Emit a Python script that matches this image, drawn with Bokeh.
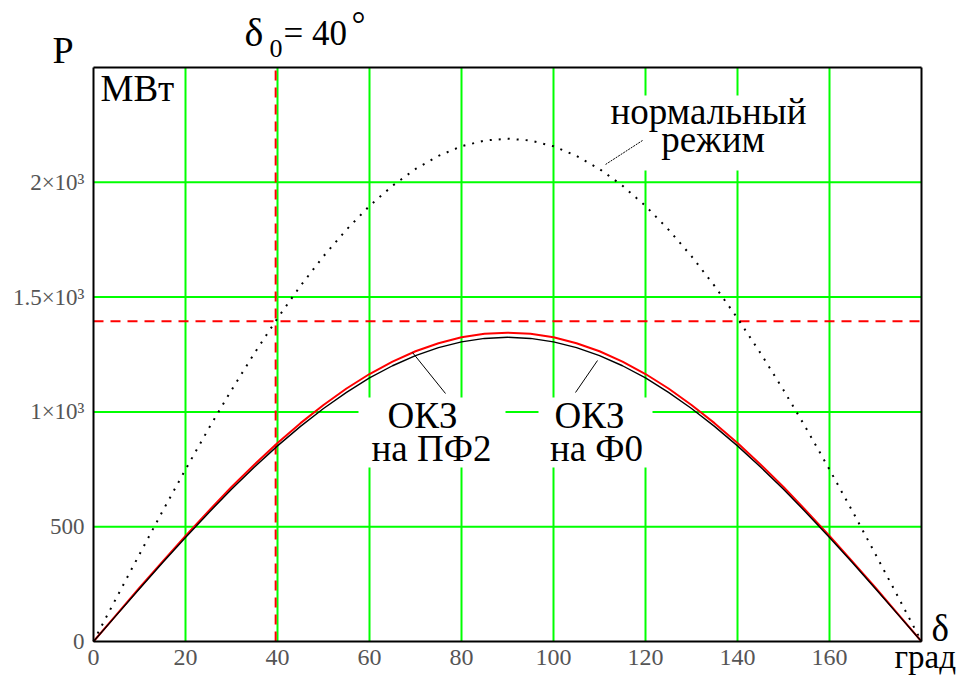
from bokeh.plotting import figure
from bokeh.models import Label, FixedTicker, LinearAxis
from bokeh.embed import file_html
from bokeh.resources import INLINE

# ---- data ----
delta = [0, 5, 10, 15, 20, 25, 30, 35, 40, 45, 50, 55, 60, 65, 70, 75, 80, 85, 90,
         95, 100, 105, 110, 115, 120, 125, 130, 135, 140, 145, 150, 155, 160, 165, 170, 175, 180]
p_normal = [0, 191, 380, 567, 749, 926, 1095, 1256, 1408, 1549, 1678, 1794, 1897, 1985, 2058, 2115, 2157, 2182, 2190,
            2182, 2157, 2115, 2058, 1985, 1897, 1794, 1678, 1549, 1408, 1256, 1095, 926, 749, 567, 380, 191, 0]
p_okz_pf2 = [0, 117, 234, 348, 460, 568, 673, 771, 865, 951, 1030, 1102, 1165, 1219, 1264, 1299, 1325, 1340, 1345,
             1340, 1325, 1299, 1264, 1219, 1165, 1102, 1030, 951, 865, 771, 673, 568, 460, 348, 234, 117, 0]
p_okz_f0 = [0, 115, 230, 343, 453, 560, 663, 760, 852, 937, 1015, 1085, 1148, 1201, 1245, 1280, 1305, 1320, 1325,
            1320, 1305, 1280, 1245, 1201, 1148, 1085, 1015, 937, 852, 760, 663, 560, 453, 343, 230, 115, 0]
delta0 = 39.6
p_turbine = 1395

x_ticks = [0, 20, 40, 60, 80, 100, 120, 140, 160]
y_ticks = [0, 500, 1000, 1500, 2000]
y_tick_labels = {0: "0", 500: "500", 1000: "1×10³", 1500: "1.5×10³", 2000: "2×10³"}
X_MAX, Y_MAX = 180, 2500

SERIF = "Liberation Serif"
GREEN = "#00ff00"

# ---- layout: the plot box inside the canvas (pixels) ----
W, H = 961, 677
BOX_L, BOX_T, BOX_R, BOX_B = 93, 67, 921, 641
sx = (BOX_R - BOX_L) / X_MAX
sy = (BOX_B - BOX_T) / Y_MAX


def dx(px):
    return (px - BOX_L) / sx


def dy(py):
    return (BOX_B - py) / sy


p = figure(width=W, height=H, x_range=(dx(0), dx(W)), y_range=(dy(H), dy(0)),
           min_border=0, output_backend="svg", toolbar_location=None,
           background_fill_color="white", border_fill_color="white")
p.outline_line_color = None
p.grid.visible = False

# axes drawn at the edges of the plot box
xa = p.xaxis[0]
ya = p.yaxis[0]
xa.fixed_location = 0
xa.bounds = (0, X_MAX)
ya.fixed_location = 0
ya.bounds = (0, Y_MAX)
xa.ticker = FixedTicker(ticks=x_ticks)
ya.ticker = FixedTicker(ticks=y_ticks)
ya.major_label_overrides = y_tick_labels
top_ax = LinearAxis(fixed_location=Y_MAX, bounds=(0, X_MAX), ticker=FixedTicker(ticks=[]))
right_ax = LinearAxis(fixed_location=X_MAX, bounds=(0, Y_MAX), ticker=FixedTicker(ticks=[]))
p.add_layout(top_ax, "above")
p.add_layout(right_ax, "right")
for ax in (xa, ya, top_ax, right_ax):
    ax.axis_line_color = "black"
    ax.axis_line_width = 2
    ax.major_tick_line_color = None
    ax.minor_tick_line_color = None
    ax.major_label_text_font = SERIF
    ax.major_label_text_color = "#555555"
    ax.major_label_text_font_size = "23px"
xa.major_label_text_font_size = "24px"
xa.major_label_standoff = 2
ya.major_label_standoff = 3

# green grid inside the box
gx = x_ticks[1:]
gy = y_ticks[1:]
p.segment(x0=gx, x1=gx, y0=[0] * len(gx), y1=[Y_MAX] * len(gx), line_color=GREEN, line_width=2)
p.segment(x0=[0] * len(gy), x1=[X_MAX] * len(gy), y0=gy, y1=gy, line_color=GREEN, line_width=2)

# white boxes behind the annotation texts
p.quad(left=[dx(358), dx(538), dx(600)], right=[dx(505), dx(652), dx(815)],
       bottom=[dy(467), dy(467), dy(170)], top=[dy(397), dy(397), dy(95)],
       fill_color="white", line_color=None)

# red dashed reference lines
p.segment(x0=[delta0, 0], x1=[delta0, X_MAX], y0=[0, p_turbine], y1=[Y_MAX, p_turbine],
          line_color="red", line_width=2, line_dash="10 7")

# curves
p.line(delta, p_normal, line_color="black", line_width=2, line_dash="2 7")
p.line(delta, p_okz_pf2, line_color="red", line_width=2)
p.line(delta, p_okz_f0, line_color="black", line_width=1.4)

# leader lines
p.line([dx(445), dx(412)], [dy(393), dy(352)], line_color="black", line_width=1)
p.line([dx(575), dx(597)], [dy(392), dy(360)], line_color="black", line_width=1)
p.line([dx(642), dx(605)], [dy(140), dy(164)], line_color="black", line_width=1, line_dash="2 1")


def lab(px, py, text, size, align="left"):
    # px, py: left/centre and baseline in canvas pixels (from top-left)
    shift = 0.33 * size
    p.add_layout(Label(x=dx(px), y=dy(py - shift), text=text, text_font=SERIF,
                       text_font_size=f"{size}px", text_color="black",
                       text_align=align, text_baseline="alphabetic"))


lab(422, 427, "ОКЗ", 37, "center")
lab(431, 460, "на ПФ2", 37, "center")
lab(589, 427, "ОКЗ", 37, "center")
lab(596, 460, "на Ф0", 37, "center")
lab(708, 123, "нормальный", 37, "center")
lab(712.5, 151, "режим", 37, "center")
lab(100, 100, "МВт", 37)

lab(52, 62, "P", 38)
lab(244, 45, "δ", 40)
lab(269, 57, "0", 26)
lab(283, 45, "= 40", 35)
lab(351, 36, "°", 35)
lab(931, 640, "δ", 37)
lab(894, 667, "град", 33)

open("out.html", "w").write(file_html(p, INLINE))
